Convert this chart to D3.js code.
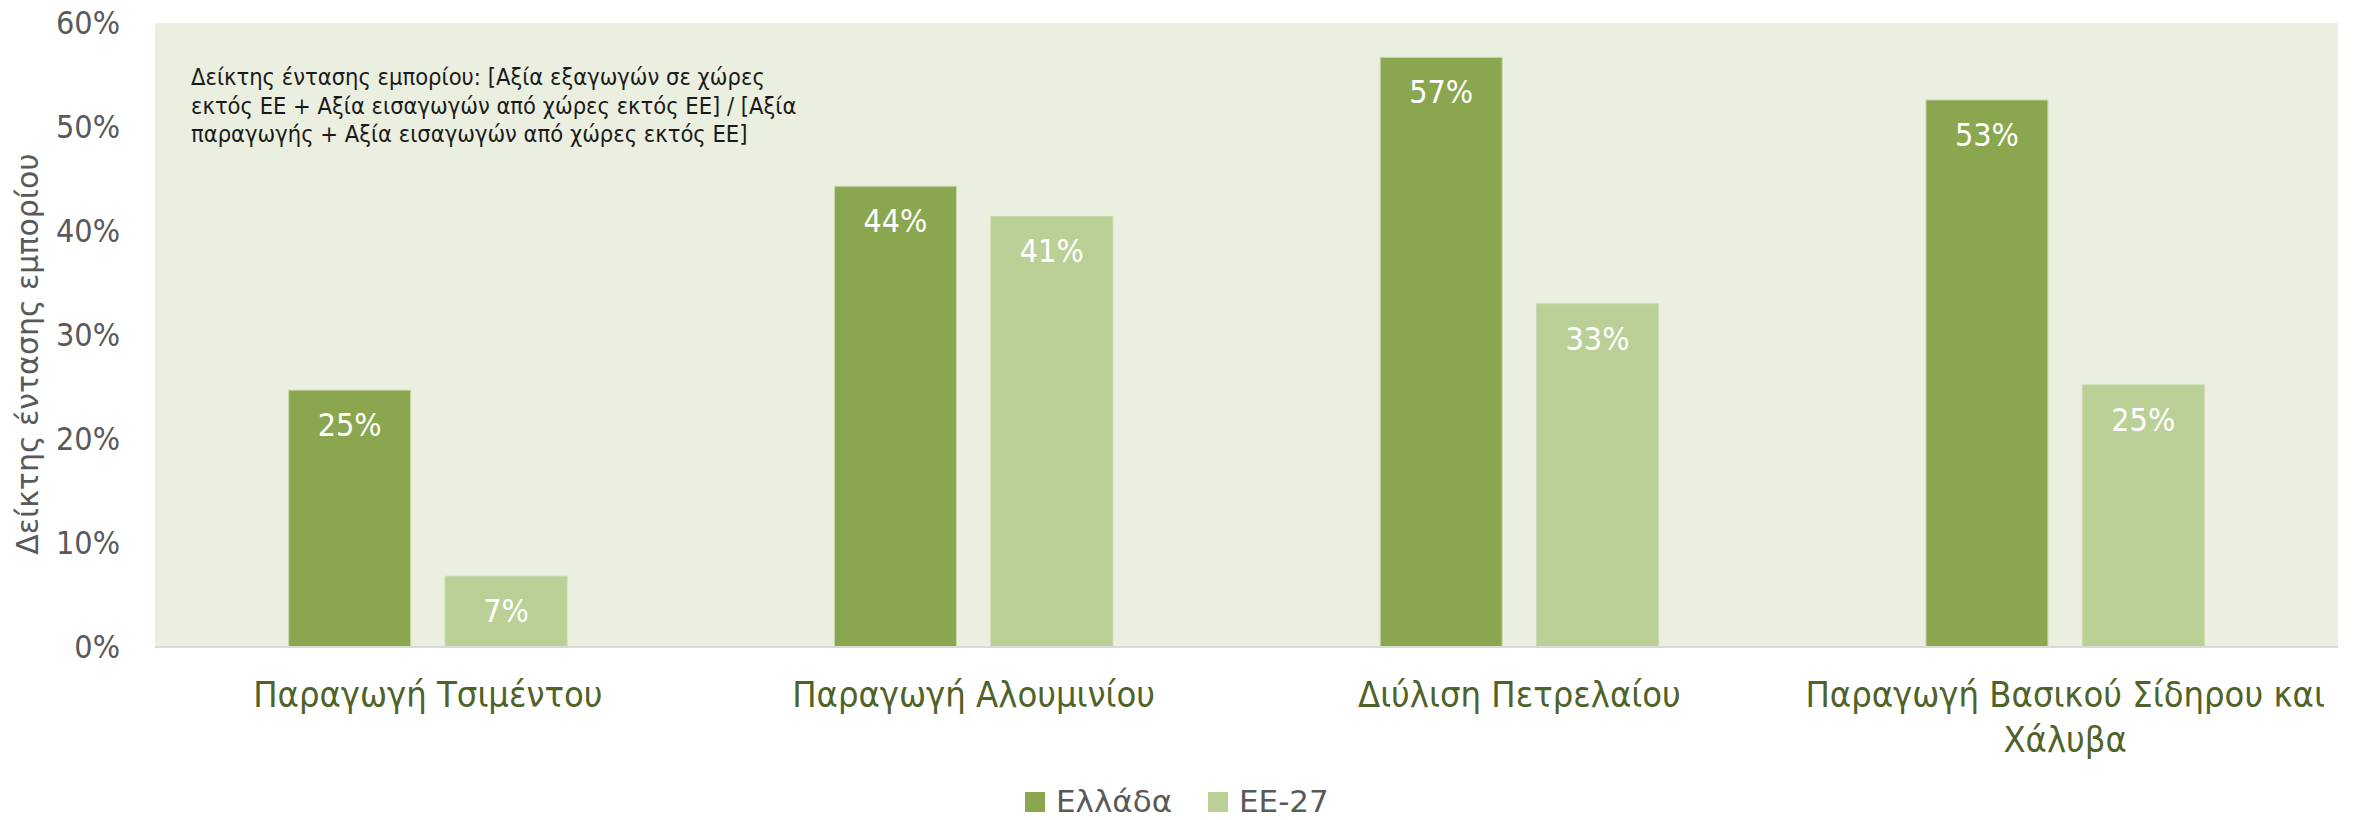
<!DOCTYPE html>
<html lang="el">
<head>
    <meta charset="UTF-8">
    <title>Δείκτης έντασης εμπορίου</title>
    <script src="https://d3js.org/d3.v7.min.js"></script>
    <style>
        body, html { margin: 0; padding: 0; background: #fff; }
        .narrow { font-family: 'Liberation Sans Narrow', 'DejaVu Sans Condensed', sans-serif; }
        .wide { font-family: 'DejaVu Sans', sans-serif; }
    </style>
</head>
<body>
<div id="chart"></div>
<script>
    // data
    var categories = ["Παραγωγή Τσιμέντου", "Παραγωγή Αλουμινίου", "Διύλιση Πετρελαίου", "Παραγωγή Βασικού Σίδηρου και Χάλυβα"];
    var seriesNames = ["Ελλάδα", "ΕΕ-27"];
    var greece = [24.7, 44.3, 56.7, 52.6];
    var eu27 = [6.8, 41.4, 33.0, 25.2];
    var yTicks = [0, 10, 20, 30, 40, 50, 60];
    var colors = ["#8aa64f", "#bbd097"];
    var note = ["Δείκτης έντασης εμπορίου: [Αξία εξαγωγών σε χώρες",
        "εκτός ΕΕ + Αξία εισαγωγών από χώρες εκτός ΕΕ] / [Αξία",
        "παραγωγής + Αξία εισαγωγών από χώρες εκτός ΕΕ]"];

    var width = 2354, height = 820;
    var margin = { top: 23, right: 16, bottom: 173, left: 155 };
    var plotW = width - margin.left - margin.right;
    var plotH = height - margin.top - margin.bottom;

    var svg = d3.select("#chart").append("svg")
        .attr("width", width)
        .attr("height", height);

    var g = svg.append("g")
        .attr("transform", "translate(" + margin.left + "," + margin.top + ")");

    // plot background
    g.append("rect")
        .attr("width", plotW)
        .attr("height", plotH)
        .attr("fill", "#ebefdf");

    var x0 = d3.scaleBand().domain(categories).range([0, plotW])
        .paddingInner(0.49).paddingOuter(0.245);
    var x1 = d3.scaleBand().domain(seriesNames).range([0, x0.bandwidth()])
        .paddingInner(0.22);
    var y = d3.scaleLinear().domain([0, 60]).range([plotH, 0]);

    var rows = categories.map(function (c, i) {
        return { cat: c, vals: [greece[i], eu27[i]] };
    });

    // y axis labels
    var yAxis = d3.axisLeft(y).tickValues(yTicks).tickFormat(function (d) { return d + "%"; }).tickSize(0).tickPadding(35);
    var ya = g.append("g").call(yAxis);
    ya.select(".domain").remove();
    ya.selectAll("text")
        .attr("class", "narrow")
        .style("font-size", "32px")
        .attr("fill", "#595959");

    // bars
    var groups = g.selectAll(".grp").data(rows).enter().append("g")
        .attr("class", "grp")
        .attr("transform", function (d) { return "translate(" + x0(d.cat) + ",0)"; });

    groups.selectAll("rect").data(function (d) {
        return d.vals.map(function (v, i) { return { s: seriesNames[i], v: v, i: i }; });
    }).enter().append("rect")
        .attr("x", function (d) { return x1(d.s); })
        .attr("y", function (d) { return y(d.v); })
        .attr("width", x1.bandwidth())
        .attr("height", function (d) { return plotH - y(d.v); })
        .attr("fill", function (d) { return colors[d.i]; })
        .attr("stroke", "#c9d8ad")
        .attr("stroke-width", 1);

    groups.selectAll(".lbl").data(function (d) {
        return d.vals.map(function (v, i) { return { s: seriesNames[i], v: v }; });
    }).enter().append("text")
        .attr("class", "lbl narrow")
        .attr("x", function (d) { return x1(d.s) + x1.bandwidth() / 2; })
        .attr("y", function (d) { return y(d.v) + 46; })
        .attr("text-anchor", "middle")
        .attr("fill", "#fff")
        .style("font-size", "32px")
        .text(function (d) { return Math.round(d.v) + "%"; });

    // baseline
    g.append("line")
        .attr("x1", 0).attr("x2", plotW)
        .attr("y1", plotH).attr("y2", plotH)
        .attr("stroke", "#d9d9d9")
        .attr("stroke-width", 2);

    // category labels, wrapped to the band step
    var xa = g.append("g").attr("transform", "translate(0," + plotH + ")")
        .call(d3.axisBottom(x0).tickSize(0).tickPadding(0));
    xa.select(".domain").remove();
    xa.selectAll("text")
        .attr("class", "narrow")
        .style("font-size", "36px")
        .attr("fill", "#4f6228")
        .attr("dy", null)
        .attr("y", 60)
        .each(function () { wrap(d3.select(this), x0.step()); });

    function wrap(text, maxW) {
        var words = text.text().split(" ");
        var yy = text.attr("y");
        text.text(null);
        var line = [];
        var lineNo = 0;
        var tspan = text.append("tspan").attr("x", 0).attr("y", yy);
        words.forEach(function (w) {
            line.push(w);
            tspan.text(line.join(" "));
            if (tspan.node().getComputedTextLength() > maxW && line.length > 1) {
                line.pop();
                tspan.text(line.join(" "));
                line = [w];
                lineNo++;
                tspan = text.append("tspan").attr("x", 0).attr("y", +yy + lineNo * 45).text(w);
            }
        });
    }

    // note inside plot
    g.append("text")
        .attr("class", "narrow")
        .style("font-size", "23.5px")
        .attr("fill", "#1a1a1a")
        .selectAll("tspan").data(note).enter().append("tspan")
        .attr("x", 36)
        .attr("y", function (d, i) { return 62 + i * 28.5; })
        .text(function (d) { return d; });

    // y axis title
    svg.append("text")
        .attr("class", "wide")
        .attr("transform", "translate(38,354) rotate(-90)")
        .attr("text-anchor", "middle")
        .style("font-size", "30px")
        .attr("fill", "#595959")
        .text("Δείκτης έντασης εμπορίου");

    // legend
    var legX = [1025, 1208];
    var leg = svg.selectAll(".leg").data(seriesNames).enter().append("g")
        .attr("class", "leg")
        .attr("transform", function (d, i) { return "translate(" + legX[i] + ",792)"; });
    leg.append("rect")
        .attr("width", 20).attr("height", 20)
        .attr("fill", function (d, i) { return colors[i]; });
    leg.append("text")
        .attr("class", "wide")
        .attr("x", 31)
        .attr("y", 20)
        .style("font-size", "31px")
        .attr("fill", "#595959")
        .text(function (d) { return d; });
</script>
</body>
</html>
